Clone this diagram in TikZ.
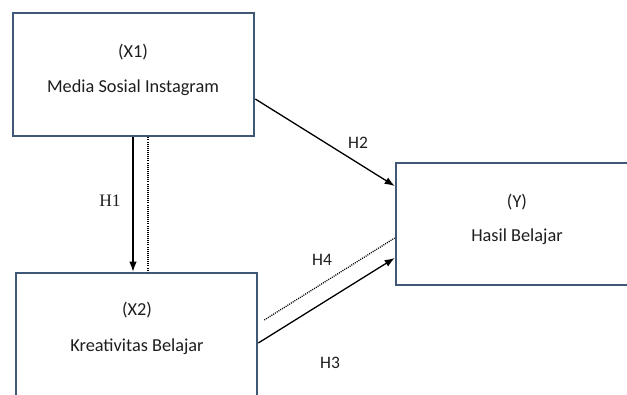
\documentclass[tikz,border=0pt]{standalone}
\usepackage{fontspec}
\setmainfont{Carlito}
\newfontfamily\serifh{Liberation Serif}
\usetikzlibrary{arrows.meta,calc}
\definecolor{boxline}{RGB}{62,88,118}
\definecolor{txt}{RGB}{30,30,30}
\tikzset{
  varbox/.style={draw=boxline, line width=2.6pt, minimum width=241pt, minimum height=123pt, inner sep=0pt, fill=white},
  lbl/.style={font=\fontsize{18.3}{22}\selectfont, text=txt, inner sep=0pt},
  hlbl/.style={font=\fontsize{17.5}{21}\selectfont, text=txt, inner sep=0pt},
  arr/.style={line width=1.3pt, -{Latex[length=10pt,width=7.5pt]}},
  dots/.style={line width=1.3pt, dash pattern=on 1pt off 1.1pt}
}
\begin{document}
\begin{tikzpicture}[x=1pt,y=-1pt]
\clip (0,0) rectangle (627,394);
\fill[white] (0,0) rectangle (627,394);
\node[varbox] (x1) at (133.5,74.5) {};
\node[varbox, minimum height=130pt] (x2) at (136.5,338) {};
\node[varbox, minimum width=242pt, minimum height=122pt] (y) at (517,224) {};
\node[lbl] (x1a) at (133,52) {(X1)};
\node[lbl] (x1b) at (133,88) {Media Sosial Instagram};
\node[lbl] (x2a) at (137,310) {(X2)};
\node[lbl] (x2b) at (137,347) {Kreativitas Belajar};
\node[lbl] (ya) at (517,202) {(Y)};
\node[lbl] (yb) at (517,237) {Hasil Belajar};
% H1
\draw[arr] ([xshift=-0.5pt]x1.south) -- ([xshift=-0.5pt]x1.south |- x2.north);
\draw[dots] ([xshift=14.5pt]x1.south) -- ([xshift=14.5pt]x1.south |- x2.north);
\node[font=\serifh\fontsize{17.5}{21}\selectfont, text=txt, inner sep=0pt] (h1) at (110,201) {H1};
% H2
\draw[arr] ($(x1.east)+(0,24.5)$) -- ($(y.west)+(0,-38)$);
\node[hlbl] (h2) at (358,143) {H2};
% H3
\draw[arr] ($(x2.east)+(0,5)$) -- ($(y.west)+(0,34)$);
\node[hlbl] (h3) at (330,363) {H3};
% H4
\draw[dots] ($(x2.east)+(6,-18)$) -- ($(y.west)+(0,14)$);
\node[hlbl] (h4) at (322,260) {H4};
\end{tikzpicture}
\end{document}
